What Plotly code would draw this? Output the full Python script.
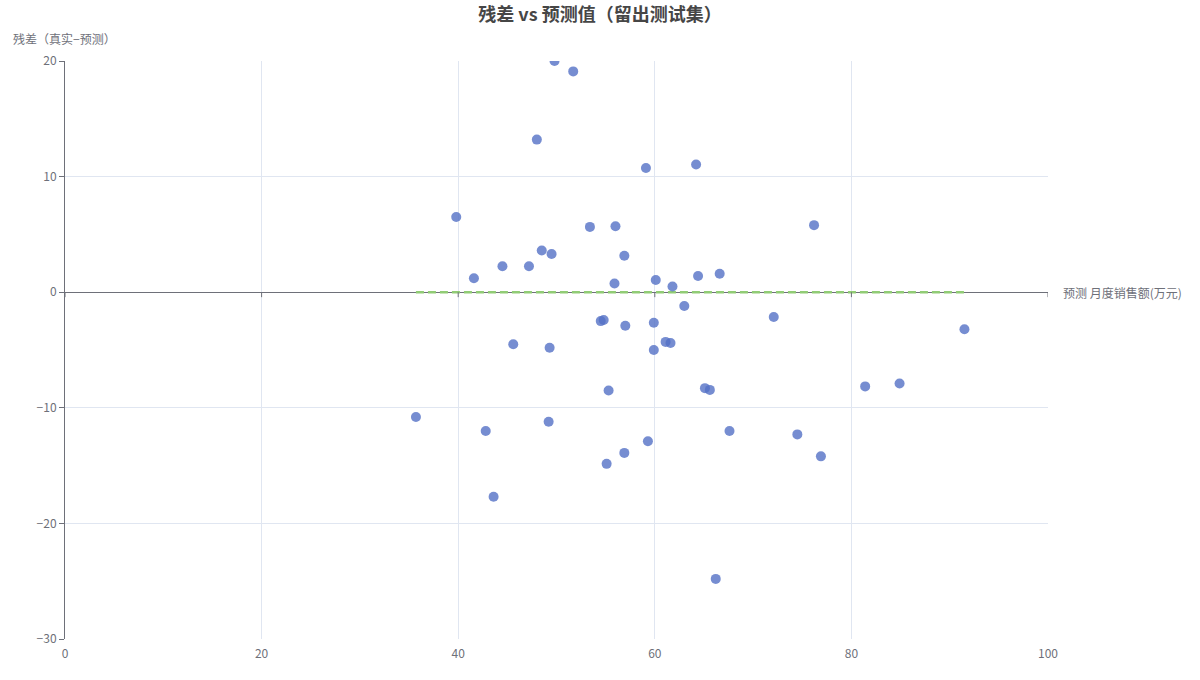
import plotly.graph_objects as go

# Predicted monthly sales (万元) and residuals (真实 − 预测)
pred = [49.8, 51.7, 48.0, 59.1, 64.2, 39.8, 76.2, 53.4, 56.0, 48.5,
        49.5, 56.9, 41.6, 44.5, 47.2, 55.9, 60.1, 64.4, 66.6, 61.8,
        63.0, 72.1, 91.5, 54.5, 54.8, 57.0, 59.9, 45.6, 49.3, 61.1,
        61.6, 59.9, 35.7, 55.3, 65.1, 65.6, 81.4, 84.9, 42.8, 49.2,
        67.6, 74.5, 59.3, 56.9, 55.1, 76.9, 43.6, 66.2]
resid = [20.0, 19.1, 13.2, 10.75, 11.05, 6.5, 5.8, 5.65, 5.7, 3.6,
         3.3, 3.15, 1.2, 2.25, 2.25, 0.75, 1.05, 1.4, 1.6, 0.5,
         -1.2, -2.15, -3.2, -2.5, -2.4, -2.9, -2.65, -4.5, -4.8, -4.3,
         -4.4, -5.0, -10.8, -8.5, -8.3, -8.45, -8.15, -7.9, -12.0, -11.2,
         -12.0, -12.3, -12.9, -13.9, -14.85, -14.2, -17.7, -24.8]

x_ticks = [0, 20, 40, 60, 80, 100]
y_ticks = [-30, -20, -10, 0, 10, 20]

title_text = "残差 vs 预测值（留出测试集）"
x_name = "预测 月度销售额(万元)"
y_name = "残差（真实−预测）"

FONT = "Noto Sans CJK SC, Noto Sans, sans-serif"
AXIS_COLOR = "#6E7079"
GRID_COLOR = "#E0E6F1"

fig = go.Figure()

# zero reference line spanning the prediction range
fig.add_trace(go.Scatter(
    x=[min(pred), max(pred)], y=[0, 0], mode="lines",
    line=dict(color="#91cc75", width=2.5, dash="8px,4px"),
    hoverinfo="skip", showlegend=False,
))

fig.add_trace(go.Scatter(
    x=pred, y=resid, mode="markers",
    marker=dict(color="#5470c6", size=10, opacity=0.8),
    showlegend=False,
))

# tick marks on the x-axis line at y = 0
for xv in x_ticks:
    fig.add_shape(type="line", xref="x", yref="y", x0=xv, x1=xv, y0=0, y1=-0.43,
                  line=dict(color=AXIS_COLOR, width=1), layer="above")

fig.update_layout(
    width=1200, height=680,
    margin=dict(l=65, r=152, t=61, b=41),
    paper_bgcolor="white", plot_bgcolor="white",
    font=dict(family=FONT, size=12, color=AXIS_COLOR),
    title=dict(text=title_text, x=0.5, xref="container", xanchor="center",
               y=1 - 15 / 680, yref="container", yanchor="middle",
               font=dict(size=18, color="#464646", family=FONT, weight="bold")),
    xaxis=dict(range=[0, 100], tickvals=x_ticks, showgrid=True, gridcolor=GRID_COLOR,
               gridwidth=1, zeroline=False, showline=False,
               ticks="outside", ticklen=4, tickcolor="rgba(0,0,0,0)",
               tickfont=dict(size=12, color=AXIS_COLOR)),
    yaxis=dict(range=[-30, 20], tickvals=y_ticks, showgrid=True, gridcolor=GRID_COLOR,
               gridwidth=1, zeroline=True, zerolinecolor=AXIS_COLOR, zerolinewidth=1,
               showline=True, linecolor=AXIS_COLOR, linewidth=1,
               ticks="outside", ticklen=5, tickcolor=AXIS_COLOR,
               tickfont=dict(size=12, color=AXIS_COLOR)),
    annotations=[
        dict(text=x_name, xref="paper", x=1, xanchor="left", xshift=13,
             yref="y", y=0, yanchor="middle", showarrow=False,
             font=dict(size=12, color=AXIS_COLOR, family=FONT)),
        dict(text=y_name, xref="paper", x=0, xanchor="left", xshift=-54,
             yref="paper", y=1, yanchor="middle", yshift=23, showarrow=False,
             font=dict(size=12, color=AXIS_COLOR, family=FONT)),
    ],
)

fig.write_html("out.html")
